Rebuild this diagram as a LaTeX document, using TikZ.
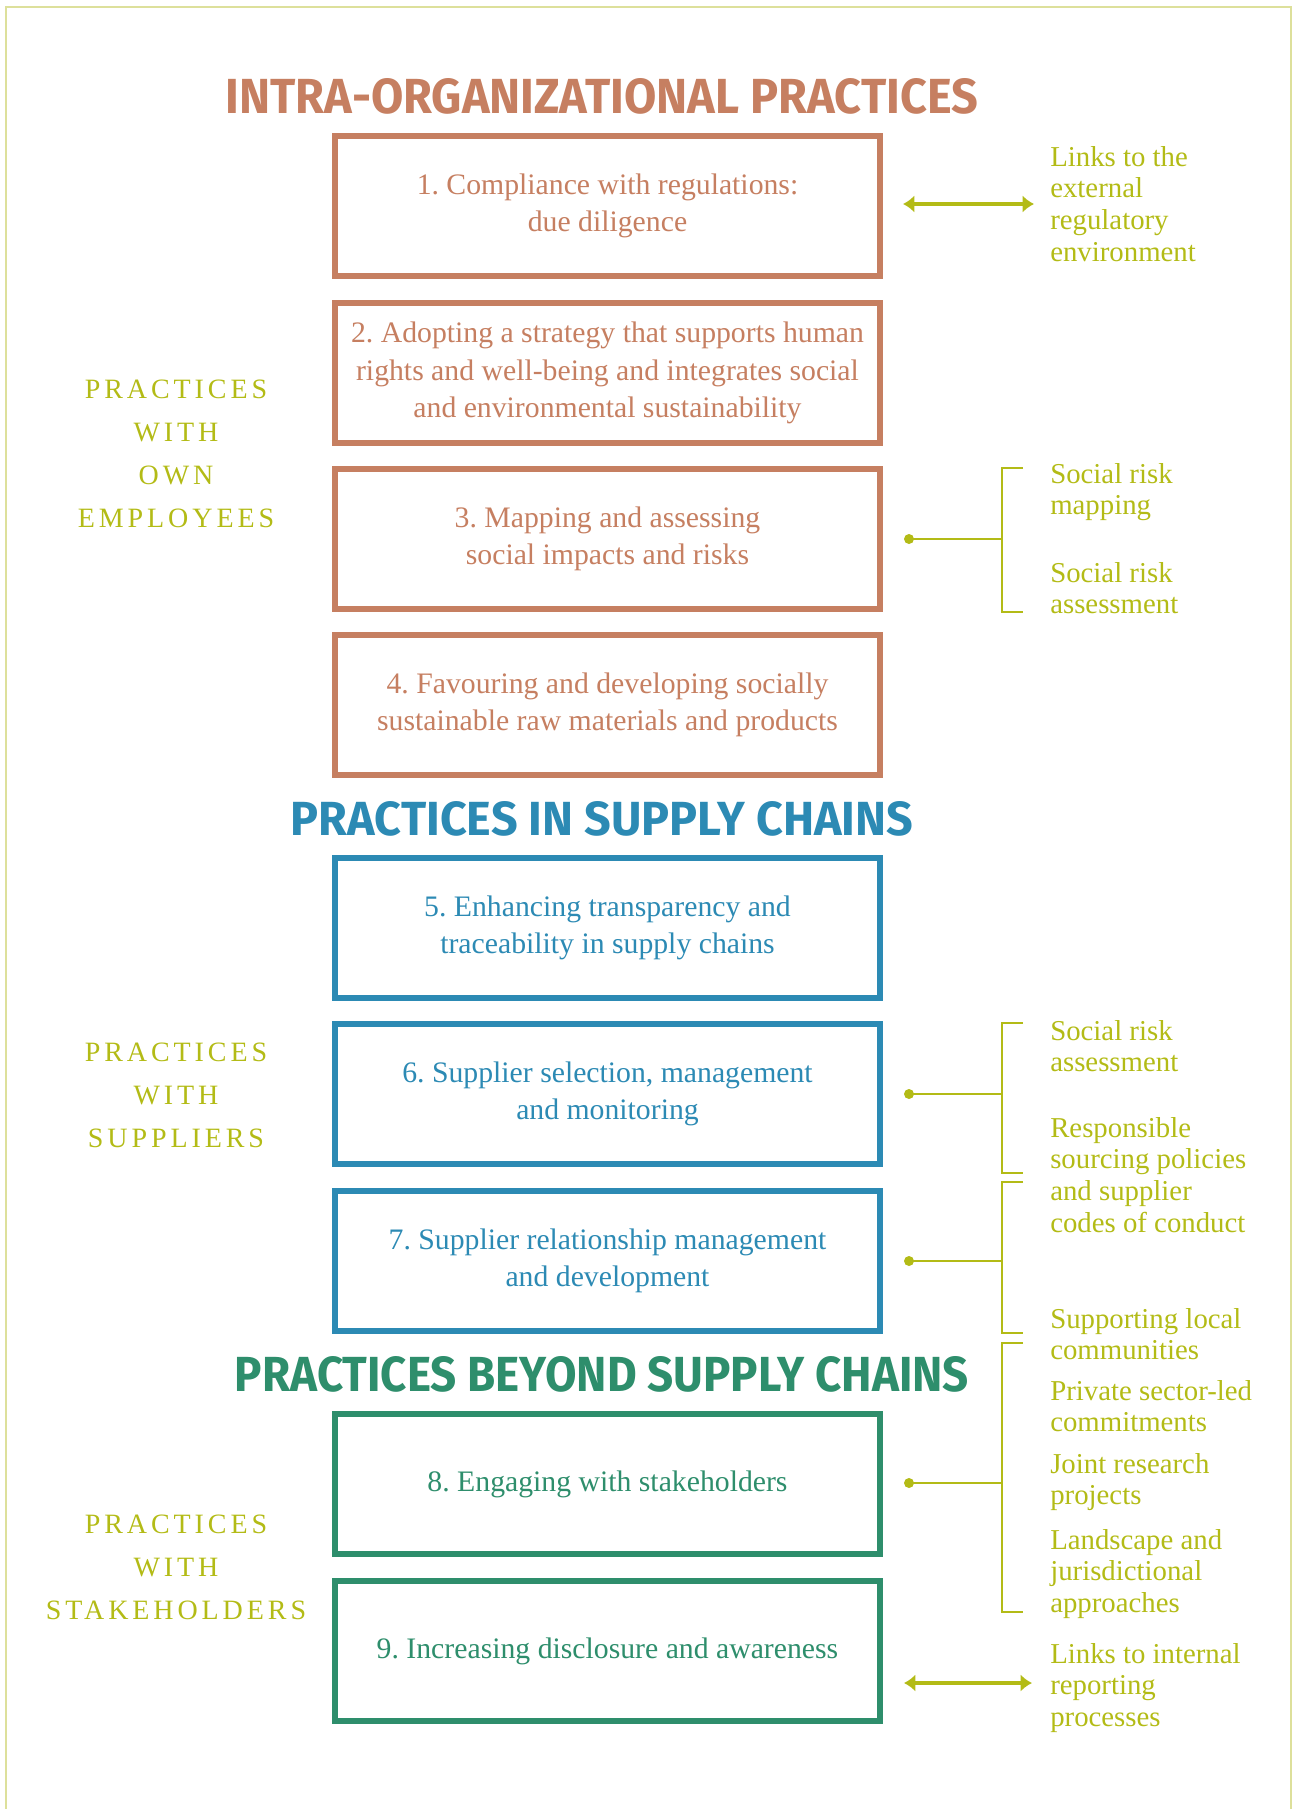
\documentclass[tikz,border=0pt]{standalone}
\usepackage{fontspec}
\usepackage{graphicx}
\setmainfont{Liberation Serif}
\newfontfamily\headfont{Fira Sans}
\newfontfamily\trackedfont[LetterSpace=14]{Liberation Serif}
\usetikzlibrary{arrows.meta}
\frenchspacing

\definecolor{intra}{HTML}{C67F61}
\definecolor{supply}{HTML}{2C8AB4}
\definecolor{beyond}{HTML}{2E8E6C}
\definecolor{lime}{HTML}{B3BB16}
\definecolor{framec}{HTML}{DDE09B}

\newlength\pxu
\setlength\pxu{0.75pt}
\newcommand\leftlines[1]{\begin{tabular}[t]{@{}l@{}}#1\end{tabular}}
\newcommand\centrelines[1]{\begin{tabular}[t]{@{}c@{}}#1\end{tabular}}

\tikzset{
  practice/.style={draw, line width=4.5pt, minimum width=408.75pt, minimum height=105pt,
    fill=white, align=center, inner sep=0pt, font=\fontsize{22.3}{28.1}\selectfont},
  intrabox/.style={practice, draw=intra, text=intra},
  supplybox/.style={practice, draw=supply, text=supply},
  beyondbox/.style={practice, draw=beyond, text=beyond},
  heading/.style={anchor=base, inner sep=0pt},
  side/.style={anchor=base west, inner sep=0pt, text=lime, font=\fontsize{21.6}{23.85}\selectfont},
  group/.style={anchor=base, inner sep=0pt, text=lime, font=\trackedfont\fontsize{21}{32.25}\selectfont},
  linkdot/.style={circle, fill=lime, inner sep=0pt, minimum size=7.5pt},
  link/.style={draw=lime, line width=2pt},
  twoway/.style={draw=lime, line width=2.5pt, {Latex[length=8.5pt,width=13pt]}-{Latex[length=8.5pt,width=13pt]}}
}

\begin{document}
\begin{tikzpicture}[x=0.75pt,y=-0.75pt]
\useasboundingbox (0,0) rectangle (1292,1809);

% outer frame, open at the bottom
\draw[framec, line width=1.5pt] (6,1809) -- (6,7) -- (1291,7) -- (1291,1809);

% section headings
\node[heading, text=intra] (h1) at (602,113)
  {\resizebox{752\pxu}{35\pxu}{\headfont\bfseries INTRA-ORGANIZATIONAL PRACTICES}};
\node[heading, text=supply] (h2) at (602,835)
  {\resizebox{622\pxu}{34\pxu}{\headfont\bfseries PRACTICES IN SUPPLY CHAINS}};
\node[heading, text=beyond] (h3) at (602,1391)
  {\resizebox{734\pxu}{35\pxu}{\headfont\bfseries PRACTICES BEYOND SUPPLY CHAINS}};

% practice boxes
\node[intrabox] (p1) at (607.5,206) {1. Compliance with regulations:\\due diligence};
\node[intrabox] (p2) at (607.5,373) {2. Adopting a strategy that supports human\\rights and well-being and integrates social\\and environmental sustainability};
\node[intrabox] (p3) at (607.5,539) {3. Mapping and assessing\\social impacts and risks};
\node[intrabox] (p4) at (607.5,705) {4. Favouring and developing socially\\sustainable raw materials and products};
\node[supplybox] (p5) at (607.5,928) {5. Enhancing transparency and\\traceability in supply chains};
\node[supplybox] (p6) at (607.5,1094) {6. Supplier selection, management\\and monitoring};
\node[supplybox] (p7) at (607.5,1261) {7. Supplier relationship management\\and development};
\node[beyondbox] (p8) at (607.5,1484) {8. Engaging with stakeholders};
\node[beyondbox] (p9) at (607.5,1651) {9. Increasing disclosure and awareness};

% groups on the left
\node[group] (g1) at (176,398) {\centrelines{PRACTICES\\WITH\\OWN\\EMPLOYEES}};
\node[group] (g2) at (176,1061) {\centrelines{PRACTICES\\WITH\\SUPPLIERS}};
\node[group] (g3) at (176,1533) {\centrelines{PRACTICES\\WITH\\STAKEHOLDERS}};

% two-way links
\coordinate (a1l) at (903,204);
\coordinate (a1r) at (1034,204);
\draw[twoway] (a1l) -- (a1r);
\coordinate (a9l) at (904,1683);
\coordinate (a9r) at (1032,1683);
\draw[twoway] (a9l) -- (a9r);

% dots and brackets
\node[linkdot] (d3) at (909,539) {};
\coordinate (b3t) at (1023,468);
\coordinate (b3m) at (1002,539);
\coordinate (b3b) at (1023,612);
\draw[link] (d3.center) -- (b3m);
\draw[link] (b3t) -| (b3m) |- (b3b);

\node[linkdot] (d6) at (909,1094) {};
\coordinate (b6t) at (1023,1023);
\coordinate (b6m) at (1002,1094);
\coordinate (b6b) at (1023,1173);
\draw[link] (d6.center) -- (b6m);
\draw[link] (b6t) -| (b6m) |- (b6b);

\node[linkdot] (d7) at (909,1261) {};
\coordinate (b7t) at (1023,1182);
\coordinate (b7m) at (1002,1261);
\coordinate (b7b) at (1023,1333);
\draw[link] (d7.center) -- (b7m);
\draw[link] (b7t) -| (b7m) |- (b7b);

\node[linkdot] (d8) at (909,1483) {};
\coordinate (b8t) at (1023,1343);
\coordinate (b8m) at (1002,1483);
\coordinate (b8b) at (1023,1612);
\draw[link] (d8.center) -- (b8m);
\draw[link] (b8t) -| (b8m) |- (b8b);

% texts on the right
\node[side] (s1) at (1050,166) {\leftlines{Links to the\\external\\regulatory\\environment}};
\node[side] (s3a) at (1050,483) {\leftlines{Social risk\\mapping}};
\node[side] (s3b) at (1050,582) {\leftlines{Social risk\\assessment}};
\node[side] (s6a) at (1050,1040) {\leftlines{Social risk\\assessment}};
\node[side] (s6b) at (1050,1137) {\leftlines{Responsible\\sourcing policies\\and supplier\\codes of conduct}};
\node[side] (s7) at (1050,1328) {\leftlines{Supporting local\\communities}};
\node[side] (s8a) at (1050,1400) {\leftlines{Private sector-led\\commitments}};
\node[side] (s8b) at (1050,1473) {\leftlines{Joint research\\projects}};
\node[side] (s8c) at (1050,1549) {\leftlines{Landscape and\\jurisdictional\\approaches}};
\node[side] (s9) at (1050,1663) {\leftlines{Links to internal\\reporting\\processes}};
\end{tikzpicture}
\end{document}
